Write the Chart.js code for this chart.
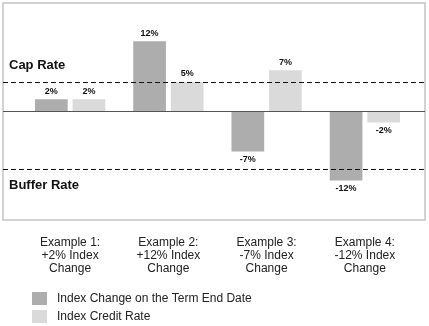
<!DOCTYPE html>
<html>
<head>
<meta charset="utf-8">
<script src="https://cdn.jsdelivr.net/npm/chart.js@4"></script>
<style>
  html, body { margin: 0; padding: 0; background: #fff; }
  #wrap { width: 429px; height: 326px; }
</style>
</head>
<body>
<div id="wrap"><canvas id="IndexChart" width="429" height="326"></canvas></div>
<script>
const categories = [
  ["Example 1:", "+2% Index", "Change"],
  ["Example 2:", "+12% Index", "Change"],
  ["Example 3:", "-7% Index", "Change"],
  ["Example 4:", "-12% Index", "Change"],
];
const indexChange = [2, 12, -7, -12];
const creditRate = [2, 5, 7, -2];
const capRate = 5;
const bufferRate = -10;

const DARK = "#adadad";
const LIGHT = "#dadada";

// frame, zero line, cap/buffer lines, value labels and the stacked legend
const overlay = {
  id: "overlay",
  afterDatasetsDraw(chart) {
    const { ctx, chartArea, scales } = chart;
    const y = scales.y;
    const left = 3, right = chart.width - 4;

    ctx.save();
    ctx.strokeStyle = "#c4c4c4";
    ctx.lineWidth = 1.5;
    ctx.strokeRect(left, chartArea.top, right - left, chartArea.bottom - chartArea.top);

    const y0 = Math.round(y.getPixelForValue(0)) + 0.5;
    ctx.strokeStyle = "#555";
    ctx.lineWidth = 1;
    ctx.beginPath();
    ctx.moveTo(left, y0);
    ctx.lineTo(right, y0);
    ctx.stroke();

    ctx.setLineDash([5, 3]);
    ctx.strokeStyle = "#111";
    ctx.lineWidth = 1.2;
    for (const v of [capRate, bufferRate]) {
      const py = Math.round(y.getPixelForValue(v)) + 0.5;
      ctx.beginPath();
      ctx.moveTo(left, py);
      ctx.lineTo(right, py);
      ctx.stroke();
    }
    ctx.setLineDash([]);

    ctx.fillStyle = "#111";
    ctx.font = "bold 13px 'Liberation Sans', Arial, sans-serif";
    ctx.textAlign = "left";
    ctx.textBaseline = "middle";
    ctx.fillText("Cap Rate", 9, y.getPixelForValue(capRate) - 16);
    ctx.fillText("Buffer Rate", 9, y.getPixelForValue(bufferRate) + 16);

    ctx.font = "bold 9px 'Liberation Sans Narrow', 'Liberation Sans', sans-serif";
    ctx.textAlign = "center";
    chart.data.datasets.forEach((ds, i) => {
      chart.getDatasetMeta(i).data.forEach((bar, j) => {
        const v = ds.data[j];
        const py = v >= 0 ? bar.y - 8 : bar.y + 8;
        ctx.fillText(v + "%", bar.x, py);
      });
    });

    ctx.font = "12px 'Liberation Sans', Arial, sans-serif";
    ctx.textAlign = "left";
    chart.data.datasets.forEach((ds, i) => {
      const top = 292 + i * 18;
      ctx.fillStyle = ds.backgroundColor;
      ctx.fillRect(32, top, 15, 13);
      ctx.fillStyle = "#222";
      ctx.fillText(ds.label, 57, top + 7);
    });
    ctx.restore();
  },
};

new Chart(document.getElementById("IndexChart").getContext("2d"), {
  type: "bar",
  data: {
    labels: categories,
    datasets: [
      { label: "Index Change on the Term End Date", data: indexChange, backgroundColor: DARK },
      { label: "Index Credit Rate", data: creditRate, backgroundColor: LIGHT },
    ],
  },
  options: {
    responsive: false,
    animation: false,
    devicePixelRatio: 1,
    layout: { padding: { left: 21, right: 15, top: 3, bottom: 0 } },
    datasets: { bar: { categoryPercentage: 0.765, barPercentage: 0.87 } },
    plugins: { legend: { display: false }, tooltip: { enabled: false } },
    scales: {
      x: {
        grid: { display: false },
        border: { display: false },
        ticks: {
          color: "#222",
          padding: 8,
          maxRotation: 0,
          font: { family: "'Liberation Sans', Arial, sans-serif", size: 12, lineHeight: 1.1 },
        },
        afterFit(scale) { scale.height = 106; },
      },
      y: { display: false, min: -18.8, max: 18.6 },
    },
  },
  plugins: [overlay],
});
</script>
</body>
</html>
